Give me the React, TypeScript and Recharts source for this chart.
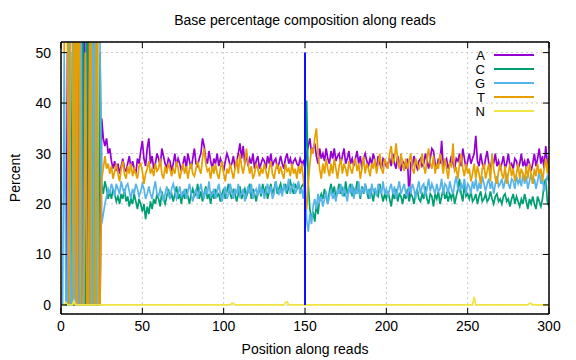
import React from 'react';
import { LineChart, Line, XAxis, YAxis, CartesianGrid, Legend, ReferenceLine } from 'recharts';

// Percent of each base at read positions 1..300
const A = [
  0,0,0,50,0,0,0,0,0,100,0,0,0,100,0,0,100,0,0,0,0,0,0,0,
  37,33,31.5,33,30,31,28.5,27,28.5,26.5,
  28,26,27.5,29,27,26.5,28,29.5,27,28.5,
  27,26,29,28,30.5,32.5,29,27.5,31,33,
  28,29.5,27,28,30,29,27.5,31,29.5,28,
  27,29,28.5,26.5,28,30,27.5,29,28,26.5,
  28,29.5,27,30,28.5,27,29,31,28,27.5,
  29,30,33,31.5,29,28,30.5,28.5,27,29,
  28,30,27.5,29,28,26.5,28.5,30,29,27.5,
  28,29.5,27,28.5,30,32,29,31.5,28,30,
  27.5,29,28,30,27,28.5,29.5,27,28,29,
  28.5,27,29.5,28,30,27.5,28.5,29,27,28,
  29.5,28,27,29,30,28,29,27.5,28.5,29,
  28,27.5,29,28,28.5,27,
  30,31.5,33,30,31,32,29.5,28,31,29,
  30,28.5,31,29,28,30.5,29,31,28.5,29.5,
  30,28,29.5,31,28,29,30.5,28,29,27.5,
  29,30.5,28,29.5,27,29,30,28.5,27.5,29,
  28,30,28.5,27,29.5,28,27,29,28.5,27.5,
  28,29,27.5,30,28,27,29.5,28,26.5,28.5,
  28,27,29,21,28,27.5,29.5,28,27,28.5,
  29,27.5,28,30,28.5,27,29,31,30.5,28,
  27,29,28,32.5,27.5,28.5,29,27,28,29.5,
  28,27,29,28.5,30,27.5,31,29,27,28.5,
  30,28,29,30,33.5,28.5,27.5,30,28,27,
  29,30.5,28,27,29,28,30,27.5,28.5,27,
  28,29.5,27,28,30,27.5,28,27,29,28.5,
  27,28,30,27.5,28.5,27,29,28,26.5,28,
  30,27.5,29,31,28,29.5,27,31.5,28,27.5,
];

const C = [
  0,0,0,0,0,0,50,0,0,0,0,0,100,0,0,100,0,0,0,100,0,0,0,50,
  24,22,24.5,23,21,22.5,21,23,22,20.5,
  21.5,20,22,21,23,20.5,21.5,19.5,21,20,
  22,20.5,19,21,20,18.5,20,17,19.5,18,
  20.5,19,21,20,22,21,19.5,22.5,21,20,
  21.5,23,21,22,20.5,22,23.5,21,22,20,
  22.5,21,23,21.5,20,22,23,21.5,22,24,
  21,22.5,20.5,22,23.5,21,22,20,22.5,21,
  23,21.5,22,20.5,22,23,21,22.5,24,22,
  21,23,22,20.5,22,23.5,21,22,23,21.5,
  22.5,24,21,23,22,20.5,22.5,23,21.5,24,
  22,23.5,21,22.5,24,22,23,24.5,22,23,
  24,22.5,23,24,22,23.5,24.5,23,22,24,
  23,24,22.5,23.5,24,23,
  40.5,24,19,17,18.5,16.5,20,18,21,22,
  21,23,21.5,20,22.5,24,22,23.5,21,22.5,
  24,22,23,21.5,24.5,22,23,24,21.5,23,
  22,24.5,23,21,23.5,22,24,22.5,21,23,
  22,20.5,23,22,21.5,24,22,20.5,22,21,
  22.5,21,19.5,22,21,23,20.5,22,21.5,20,
  22,21,23,20.5,22,21.5,20,22,23,21,
  20.5,22,21,23.5,21,20,22,21.5,19.5,22,
  21,22.5,20,21.5,23,21,22,20.5,22,21,
  22.5,20,21.5,23,25,22,20.5,24,21.5,22,
  21,22.5,20.5,21,22,20,21.5,22.5,20.5,21,
  22,20.5,21,22.5,21,20,21.5,22,20.5,21,
  20,21.5,22,20.5,21,19.5,21,22,20,21.5,
  20.5,19.5,21,20,22,20.5,19,21,20,21.5,
  20,19,21.5,20.5,19.5,21,24,25,20.5,19.5,
];

const G = [
  0,50,0,0,100,0,0,100,0,0,0,100,0,0,50,0,0,0,100,0,100,0,100,50,
  16,18,20,21.5,23,22,24,23,21.5,24,
  23,22,24.5,23,22,23.5,24,22.5,21,23,
  22,24,23,21.5,22.5,24,23,21,22,23.5,
  22,21,23,24.5,22,21.5,23,22,20.5,22,
  23.5,22,21,23,24,22.5,21,22,23.5,21.5,
  22,23,21,22.5,24,22,20.5,22,23,21,
  22.5,24,22,21,23,22,24.5,21.5,22,23,
  21,22.5,24,22,20.5,22,23.5,21,22,24,
  22.5,21,23,22,24,21.5,22,23,20.5,22,
  23.5,22,24,21,22.5,23,21.5,24,22,23,
  21,22.5,24,22,23.5,21,22,24.5,23,22,
  23,21.5,24,22.5,23,25,22,23.5,24,22,
  23,24.5,22,23,21,25,
  17,14.5,18,16,19.5,21,19,22,20.5,21.5,
  19.5,21,22.5,20,21.5,23,21,22,20.5,23,
  22,24,21.5,23,22,20.5,23.5,22,24,21,
  23,22,24.5,21.5,23,22.5,24,22,23,21,
  24,22.5,23,21.5,24,23,22,24.5,22,23,
  21.5,23,24,22,23.5,21,23,24.5,22,23,
  24,22,21.5,23.5,22,24,23,21,23,24.5,
  22,23.5,24,21.5,23,25,22.5,24,23,22,
  24,22.5,23,25,22,24,23.5,22,24.5,23,
  22,24,25.5,23,22.5,24,23,25,22,24,
  23.5,22,24.5,23,25,22.5,24,23,25.5,24,
  22.5,24,25,23,24.5,22,24,25.5,23.5,24,
  25,23,24.5,26,24,23,25,24.5,23,25.5,
  24,25,23.5,26,24,25.5,23,24.5,26,24,
  25,23,24.5,26.5,24,25,22.5,24,25.5,24.5,
];

const T = [
  100,50,100,50,0,100,50,0,100,0,100,0,0,0,50,0,0,100,0,0,0,100,0,0,
  25,27,29.5,27,28,26,27.5,25,26.5,28,
  26,24.5,27,28.5,26,25,27.5,26,28,25.5,
  27,26,25,27.5,28,26.5,24,26,27,28.5,
  26,27,25.5,28,26.5,27,29,26,25,27.5,
  26,28,27,25.5,27,26,28.5,27,25,26.5,
  28,26,27.5,25,27,28,26,25.5,27,28.5,
  27,26,29,31,28,26.5,27,25,27.5,26,
  28,26,25,27,28.5,26,24.5,27,26,28,
  26.5,25,27,29,26,30,27.5,26,28,31,
  28,26,27.5,25,26,28,27,25.5,27,26,
  28,26.5,25,27,28.5,26,25,27,28,26,
  27.5,26,25,28,26.5,27,25.5,28,26,27,
  25,27.5,26,28,25,22,
  19,24,28,31,30,33,35,30,27,25,
  28,26,29,27,25.5,28,26,29,27,25,
  27.5,29,26,28,27,25.5,28.5,27,26,28,
  29,26.5,28,25,27,29.5,26,28,27,25.5,
  28,27,29,26,28,30,27,26,29,28,
  27,30,31.5,28,29,32,28.5,27,30,28,
  26.5,29,27,28.5,30,27,26,29,28,27,
  28,30,27.5,26,29,31,28,27,29.5,26,
  28,27,30,28.5,26,29,27,25,28,27.5,
  32,26.5,27,25,28,30,27,25.5,28,26,
  27,24.5,26,28,25,27.5,26,24,27,28,
  25,26.5,28,24.5,30,27,25,24,26.5,28,
  26,25,27.5,24,26,28,25.5,27,24.5,26,
  28,25,27,26,24.5,27.5,25,28,26,24,
  27,25.5,28,26,27,24.5,27,29,26,29.5,
];

const N = [
  0,0,0.5,0,0,0,0,0.8,0,0,0,0,0,0,0,0,0,0,0,0,
  0,0,0,0,0,0,0,0,0,0,0,0,0,0,0,0,0,0,0,0,
  0,0,0,0,0,0,0,0,0,0,0,0,0,0,0,0,0,0,0,0,
  0,0,0,0,0,0,0,0,0,0,0,0,0,0,0,0,0,0,0,0,
  0,0,0,0,0,0,0,0,0,0,0,0,0,0,0,0,0,0,0,0,
  0,0,0,0,0.3,0.3,0,0,0,0,0,0,0,0,0,0,0,0,0,0,
  0,0,0,0,0,0,0,0,0,0,0,0,0,0,0,0,0,0.5,0.6,0,
  0,0,0,0,0,0,0,0,0,0,0,0,0,0,0,0,0,0,0,0,
  0,0,0,0,0,0,0,0,0,0,0,0,0,0,0,0,0,0,0,0,
  0,0,0,0,0,0,0,0,0,0,0,0,0,0,0,0,0,0,0,0,
  0,0,0,0,0,0,0,0,0,0,0,0,0,0,0,0,0,0,0,0,
  0,0,0,0,0,0,0,0,0,0,0,0,0,0,0,0,0,0,0,0,
  0,0,0,0,0,0,0,0,0,0,0,0,0,1.6,0,0,0,0,0,0,
  0,0,0,0,0,0,0,0,0,0,0,0,0,0,0,0,0,0,0,0,
  0,0,0,0,0,0,0,0.3,0.3,0,0,0,0,0,0,0,0,0,0,0,
];

const xTicks = [0, 50, 100, 150, 200, 250, 300];
const yTicks = [0, 10, 20, 30, 40, 50];
const markerPos = 150;
const markerTop = 50;

const series = [
  { key: 'A', color: '#9400d3', values: A },
  { key: 'C', color: '#009e73', values: C },
  { key: 'G', color: '#56b4e9', values: G },
  { key: 'T', color: '#e69f00', values: T },
  { key: 'N', color: '#f0e442', values: N },
];
const seriesOrder = series.map((s) => s.key);

const rows = A.map((_, i) => {
  const r: Record<string, number> = { pos: i + 1 };
  series.forEach((s) => { r[s.key] = s.values[i]; });
  return r;
});

const FONT = '"Liberation Sans", Arial, Helvetica, sans-serif';
const TL = 6;

const BottomTick = (p: any) => (
  <g>
    <line x1={p.x} x2={p.x} y1={p.y} y2={p.y - TL} stroke="#000" strokeWidth={1} />
    <text x={p.x} y={p.y + 17} textAnchor="middle" fontSize={14} fontFamily={FONT} fill="#000">{p.payload.value}</text>
  </g>
);
const TopTick = (p: any) => (
  <line x1={p.x} x2={p.x} y1={p.y} y2={p.y + TL} stroke="#000" strokeWidth={1} />
);
const LeftTick = (p: any) => (
  <g>
    <line x1={p.x} x2={p.x + TL} y1={p.y} y2={p.y} stroke="#000" strokeWidth={1} />
    <text x={p.x - 10} y={p.y + 5} textAnchor="end" fontSize={14} fontFamily={FONT} fill="#000">{p.payload.value}</text>
  </g>
);
const RightTick = (p: any) => (
  <line x1={p.x} x2={p.x - TL} y1={p.y} y2={p.y} stroke="#000" strokeWidth={1} />
);

const LegendContent = (props: any) => {
  const payload = [...(props.payload || [])].sort(
    (a: any, b: any) => seriesOrder.indexOf(a.value) - seriesOrder.indexOf(b.value)
  );
  return (
    <svg width={80} height={72} style={{ display: 'block' }}>
      {payload.map((e: any, i: number) => (
        <g key={e.value}>
          <text x={19} y={8 + 14 * i} dy="0.36em" textAnchor="end" fontSize={13} fontFamily={FONT} fill="#000">{e.value}</text>
          <line x1={28} x2={68} y1={8 + 14 * i} y2={8 + 14 * i} stroke={e.color} strokeWidth={2} />
        </g>
      ))}
    </svg>
  );
};

const YLabel = (props: any) => {
  const vb = props.viewBox || { x: 0, y: 0, width: 0, height: 0 };
  const cx = vb.x + 20;
  const cy = vb.y + vb.height / 2;
  return (
    <text x={cx} y={cy} transform={`rotate(-90 ${cx} ${cy})`} textAnchor="middle" fontSize={14} fontFamily={FONT} fill="#000">Percent</text>
  );
};

const XLabel = (props: any) => {
  const vb = props.viewBox || { x: 0, y: 0, width: 0, height: 0 };
  return (
    <text x={vb.x + vb.width / 2} y={vb.y + 40} textAnchor="middle" fontSize={14} fontFamily={FONT} fill="#000">Position along reads</text>
  );
};

export default function App() {
  return (
    <div style={{ position: 'absolute', left: 0, top: 0, width: 576, height: 360, background: '#fff' }}>
      <div style={{ position: 'absolute', left: 0, top: 12, width: 610, textAlign: 'center', fontFamily: FONT, fontSize: 14, lineHeight: '16px', color: '#000' }}>
        Base percentage composition along reads
      </div>
      <LineChart width={576} height={360} data={rows} margin={{ top: 0, right: 0, bottom: 0, left: 0 }}>
        <CartesianGrid stroke="#c8c8c8" strokeDasharray="2 3" strokeWidth={1} />
        <XAxis dataKey="pos" type="number" domain={[0, 300]} ticks={xTicks} allowDataOverflow height={46}
          tickSize={0} tickMargin={0} tickLine={false} tick={BottomTick} interval={0}
          axisLine={{ stroke: '#000', strokeWidth: 1.5 }} label={<XLabel />} />
        <XAxis xAxisId="top" orientation="top" dataKey="pos" type="number" domain={[0, 300]} ticks={xTicks} allowDataOverflow height={42}
          tickSize={0} tickMargin={0} tickLine={false} tick={TopTick} interval={0}
          axisLine={{ stroke: '#000', strokeWidth: 1.5 }} />
        <YAxis type="number" domain={[-1.8, 52.1]} ticks={yTicks} allowDataOverflow width={61}
          tickSize={0} tickMargin={0} tickLine={false} tick={LeftTick} interval={0}
          axisLine={{ stroke: '#000', strokeWidth: 1.5 }} label={<YLabel />} />
        <YAxis yAxisId="right" orientation="right" type="number" domain={[-1.8, 52.1]} ticks={yTicks} allowDataOverflow width={27}
          tickSize={0} tickMargin={0} tickLine={false} tick={RightTick} interval={0}
          axisLine={{ stroke: '#000', strokeWidth: 1.5 }} />
        {series.map((s) => (
          <Line key={s.key} type="linear" dataKey={s.key} name={s.key} stroke={s.color} strokeWidth={1.7}
            dot={false} activeDot={false} isAnimationActive={false} />
        ))}
        <ReferenceLine segment={[{ x: markerPos, y: 0 }, { x: markerPos, y: markerTop }]} stroke="#1010ff" strokeWidth={2} />
        <Legend layout="vertical" align="center" verticalAlign="middle" content={LegendContent}
          wrapperStyle={{ left: 466, top: 47, width: 80, height: 72 }} />
      </LineChart>
    </div>
  );
}
